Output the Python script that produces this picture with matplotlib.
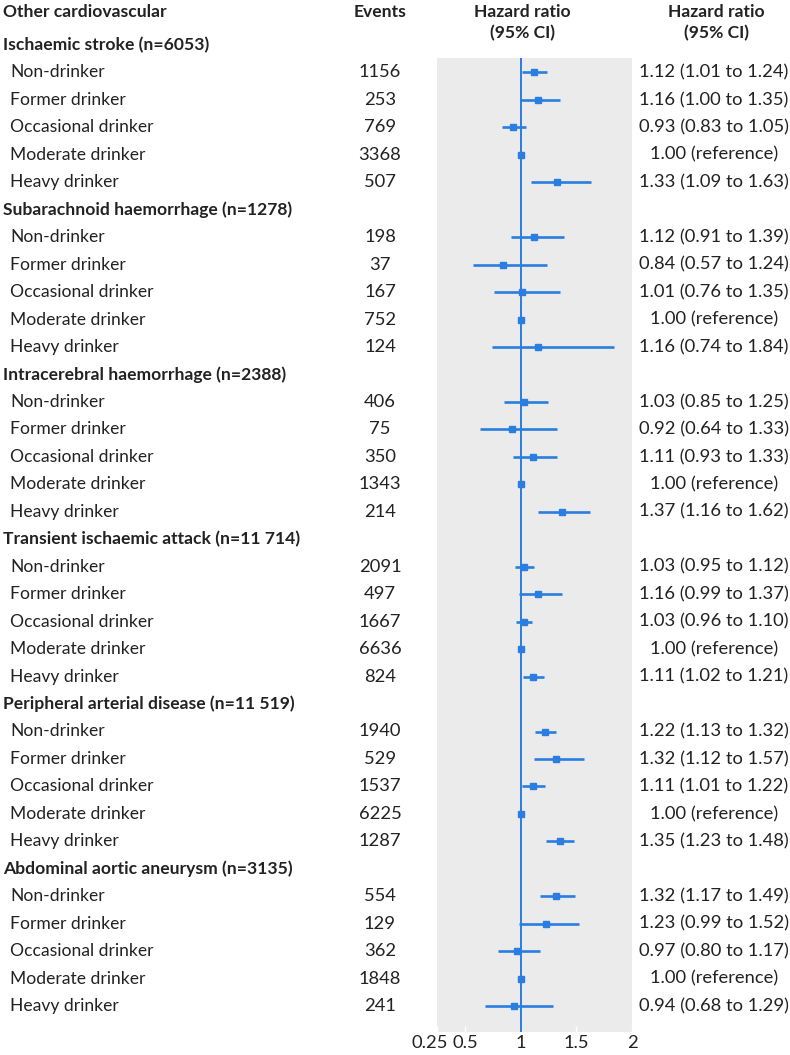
import numpy as np
import matplotlib.pyplot as plt
from matplotlib.transforms import blended_transform_factory, ScaledTranslation

plt.rcParams['font.family'] = ['Lato', 'DejaVu Sans']

groups = ['Ischaemic stroke (n=6053)', 'Subarachnoid haemorrhage (n=1278)',
          'Intracerebral haemorrhage (n=2388)', 'Transient ischaemic attack (n=11 714)',
          'Peripheral arterial disease (n=11 519)', 'Abdominal aortic aneurysm (n=3135)']
categories = ['Non-drinker', 'Former drinker', 'Occasional drinker',
              'Moderate drinker', 'Heavy drinker']
events = [[1156, 253, 769, 3368, 507],
          [198, 37, 167, 752, 124],
          [406, 75, 350, 1343, 214],
          [2091, 497, 1667, 6636, 824],
          [1940, 529, 1537, 6225, 1287],
          [554, 129, 362, 1848, 241]]
hr = [[1.12, 1.16, 0.93, 1.00, 1.33],
      [1.12, 0.84, 1.01, 1.00, 1.16],
      [1.03, 0.92, 1.11, 1.00, 1.37],
      [1.03, 1.16, 1.03, 1.00, 1.11],
      [1.22, 1.32, 1.11, 1.00, 1.35],
      [1.32, 1.23, 0.97, 1.00, 0.94]]
lo = [[1.01, 1.00, 0.83, None, 1.09],
      [0.91, 0.57, 0.76, None, 0.74],
      [0.85, 0.64, 0.93, None, 1.16],
      [0.95, 0.99, 0.96, None, 1.02],
      [1.13, 1.12, 1.01, None, 1.23],
      [1.17, 0.99, 0.80, None, 0.68]]
hi = [[1.24, 1.35, 1.05, None, 1.63],
      [1.39, 1.24, 1.35, None, 1.84],
      [1.25, 1.33, 1.33, None, 1.62],
      [1.12, 1.37, 1.10, None, 1.21],
      [1.32, 1.57, 1.22, None, 1.48],
      [1.49, 1.52, 1.17, None, 1.29]]
xticks = [0.25, 0.5, 1, 1.5, 2]
xticklabels = ['0.25', '0.5', '1', '1.5', '2']

BLUE = '#2a7de1'
TXT = '#222222'
FS = 13.2      # numbers
FS_LAB = 12.6  # row labels
W, H = 790, 1055

fig = plt.figure(figsize=(W / 100, H / 100), dpi=100)
# panel in pixels: x 437-632, y 58-1032
ax = fig.add_axes([437 / W, (H - 1032) / H, 195 / W, 974 / H])
ax.set_facecolor('#ebebeb')
for s in ax.spines.values():
    s.set_visible(False)

row0, step = 45, 27.46
ax.set_xlim(0.25, 2)
ax.set_ylim((1032 - row0) / step, (58 - row0) / step)
ax.axvline(1, color=BLUE, lw=1.4, zorder=2)

tr = blended_transform_factory(fig.transFigure, ax.transData)
kw = dict(transform=tr, va='center', color=TXT, clip_on=False)

row = 0
for g in range(len(groups)):
    ax.text(3 / W, row, groups[g], ha='left', fontweight='bold', fontsize=FS_LAB, **kw)
    row += 1
    for k in range(len(categories)):
        ax.text(10 / W, row, categories[k], ha='left', fontsize=FS_LAB, **kw)
        ax.text(380 / W, row, str(events[g][k]), ha='center', fontsize=FS, **kw)
        if lo[g][k] is None:
            label = '%.2f (reference)' % hr[g][k]
        else:
            label = '%.2f (%.2f to %.2f)' % (hr[g][k], lo[g][k], hi[g][k])
            ax.plot([lo[g][k], hi[g][k]], [row, row], color=BLUE, lw=1.9,
                    solid_capstyle='butt', zorder=3)
        ax.plot(hr[g][k], row, marker='s', color=BLUE, ms=4.6, zorder=4)
        ax.text(714 / W, row, label, ha='center', fontsize=FS, **kw)
        row += 1

fig.text(3 / W, 1 - 12 / H, 'Other cardiovascular', ha='left', va='center',
         fontweight='bold', fontsize=FS_LAB, color=TXT)
fig.text(380 / W, 1 - 12 / H, 'Events', ha='center', va='center',
         fontweight='bold', fontsize=FS_LAB, color=TXT)
for cx in (522, 716):
    fig.text(cx / W, 1 - 12 / H, 'Hazard ratio', ha='center', va='center',
             fontweight='bold', fontsize=FS_LAB, color=TXT)
    fig.text(cx / W, 1 - 33 / H, '(95% CI)', ha='center', va='center',
             fontweight='bold', fontsize=FS_LAB, color=TXT)

ax.set_yticks([])
ax.set_xticks(xticks)
ax.set_xticklabels(xticklabels)
ax.tick_params(axis='x', direction='in', length=4, width=1, color='white',
               labelsize=FS, labelcolor=TXT, pad=2)
# nudge the crowded 0.25 label left, as in the original
first = ax.get_xticklabels()[0]
first.set_transform(first.get_transform() + ScaledTranslation(-7 / 100, 0, fig.dpi_scale_trans))

fig.savefig('out.png', dpi=100)
